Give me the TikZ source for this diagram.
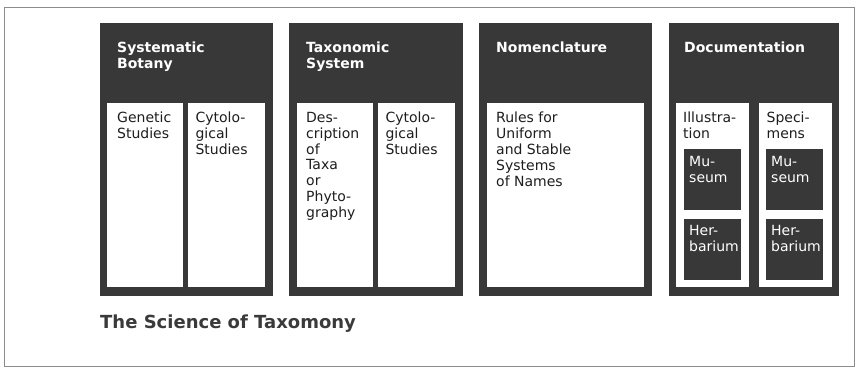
\documentclass[tikz,border=0pt]{standalone}
\usepackage{fontspec}
\setmainfont{DejaVu Sans}
\usetikzlibrary{positioning}

\definecolor{panelgray}{HTML}{383838}
\definecolor{inkgray}{HTML}{1E1E1E}
\definecolor{titlegray}{HTML}{3A3A3A}
\definecolor{framegray}{HTML}{8C8C8C}

\begin{document}
\begin{tikzpicture}[x=1pt,y=-1pt,
    panel/.style={fill=panelgray, inner sep=0pt, anchor=north west, minimum height=273pt},
    cell/.style={fill=white, inner sep=0pt, anchor=north west, minimum height=184pt},
    dbox/.style={fill=panelgray, inner sep=0pt, anchor=north west, minimum width=57pt, minimum height=61pt},
    head/.style={inner sep=0pt, anchor=north west, align=left, text=white, font=\fontsize{14}{15.6}\selectfont\bfseries},
    body/.style={inner sep=0pt, anchor=north west, align=left, text=inkgray, font=\fontsize{14}{15.8}\selectfont},
    dtext/.style={body, text=white}]
    \useasboundingbox (0,0) rectangle (858,377);
    \draw[framegray, line width=0.8pt] (4,7) rectangle (854,366);

    % SYSTEMATIC BOTANY
    \node[panel, minimum width=173pt] (sysbot) at (100,23) {};
    \node[head] (sysbothead) at ([shift={(17pt,-19pt)}]sysbot.north west) {Systematic\\Botany};
    \node[cell, minimum width=76pt] (genet) at (107,103) {};
    \node[cell, minimum width=77pt, right=4pt of genet] (cytoa) {};
    \node[body] (genettext) at ([shift={(10pt,-9pt)}]genet.north west) {Genetic\\Studies};
    \node[body] (cytoatext) at ([shift={(8pt,-9pt)}]cytoa.north west) {Cytolo-\\gical\\Studies};

    % TAXONOMIC SYSTEM
    \node[panel, minimum width=174pt] (taxsys) at (289,23) {};
    \node[head] (taxsyshead) at ([shift={(17pt,-19pt)}]taxsys.north west) {Taxonomic\\System};
    \node[cell, minimum width=76pt] (descr) at (297,103) {};
    \node[cell, minimum width=77pt, right=4pt of descr] (cytob) {};
    \node[body] (descrtext) at ([shift={(9pt,-9pt)}]descr.north west) {Des-\\cription\\of\\Taxa\\or\\Phyto-\\graphy};
    \node[body] (cytobtext) at ([shift={(8pt,-9pt)}]cytob.north west) {Cytolo-\\gical\\Studies};

    % NOMENCLATURE
    \node[panel, minimum width=173pt] (nomen) at (479,23) {};
    \node[head] (nomenhead) at ([shift={(17pt,-19pt)}]nomen.north west) {Nomenclature};
    \node[cell, minimum width=157pt] (rules) at (487,103) {};
    \node[body] (rulestext) at ([shift={(9pt,-9pt)}]rules.north west) {Rules for\\Uniform\\and Stable\\Systems\\of Names};

    % DOCUMENTATION
    \node[panel, minimum width=170pt] (docu) at (669,23) {};
    \node[head] (docuhead) at ([shift={(15pt,-19pt)}]docu.north west) {Documentation};
    \node[cell, minimum width=73pt] (illus) at (676,103) {};
    \node[cell, minimum width=73pt, right=9pt of illus] (speci) {};
    \node[body] (illustext) at ([shift={(7pt,-9pt)}]illus.north west) {Illustra-\\tion};
    \node[body] (specitext) at ([shift={(8pt,-9pt)}]speci.north west) {Speci-\\mens};

    \foreach \col/\x in {a/684, b/766} {
        \node[dbox] (mus\col) at (\x,149) {};
        \node[dbox, below=8pt of mus\col] (herb\col) {};
        \node[dtext] (mus\col text) at ([shift={(5pt,-7pt)}]mus\col.north west) {Mu-\\seum};
        \node[dtext] (herb\col text) at ([shift={(5pt,-7pt)}]herb\col.north west) {Her-\\barium};
    }

    % TITLE
    \node[inner sep=0pt, anchor=base west, text=titlegray, font=\fontsize{18}{20}\selectfont\bfseries] (title) at (100,328) {The Science of Taxomony};
\end{tikzpicture}
\end{document}
